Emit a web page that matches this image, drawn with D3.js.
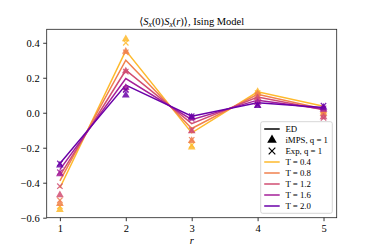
<!DOCTYPE html>
<html>
<head>
<meta charset="utf-8">
<script src="https://cdn.jsdelivr.net/npm/d3@7"></script>
<style>
  body { margin: 0; background: #fff; }
  svg { display: block; font-family: "Liberation Serif", "DejaVu Serif", serif; }
</style>
</head>
<body>
<svg></svg>
<script>
// distances r
var distances = [1, 2, 3, 4, 5];
var temps = [0.4, 0.8, 1.2, 1.6, 2.0];
var yTicks = [-0.6, -0.4, -0.2, 0.0, 0.2, 0.4];

// ED curves, one row per temperature
var edValues = [
    [-0.43, 0.355, -0.115, 0.12, 0.037],
    [-0.39, 0.300, -0.090, 0.105, 0.022],
    [-0.36, 0.243, -0.062, 0.090, 0.017],
    [-0.325, 0.195, -0.040, 0.072, 0.022],
    [-0.29, 0.158, -0.020, 0.057, 0.030]
];
// iMPS, q = 1 (triangles)
var impsValues = [
    [-0.555, 0.422, -0.197, 0.120, 0.008],
    [-0.52, 0.350, -0.160, 0.108, -0.005],
    [-0.47, 0.238, -0.105, 0.085, -0.025],
    [-0.35, 0.143, -0.030, 0.058, 0.018],
    [-0.30, 0.100, -0.025, 0.040, 0.030]
];
// Exp, q = 1 (crosses)
var expValues = [
    [-0.535, 0.400, -0.185, 0.112, 0.000],
    [-0.50, 0.345, -0.155, 0.100, -0.010],
    [-0.42, 0.235, -0.100, 0.075, -0.030],
    [-0.34, 0.135, -0.035, 0.050, 0.025],
    [-0.29, 0.130, -0.020, 0.045, 0.040]
];
var colorPos = [0.85, 0.6875, 0.525, 0.3625, 0.2];

var svg = d3.select("svg").attr("width", 374).attr("height", 249),
    margin = {top: 29.3, right: 37.3, bottom: 31.3, left: 46.7},
    width = 374 - margin.left - margin.right,
    height = 249 - margin.top - margin.bottom;

var x = d3.scaleLinear().domain([0.8, 5.2]).range([0, width]),
    y = d3.scaleLinear().domain([-0.6, 0.477]).range([height, 0]);

var g = svg.append("g")
    .attr("transform", "translate(" + margin.left + "," + margin.top + ")");

var fmt = function (d) { return d3.format(".1f")(d).replace("-", "\u2212"); };

var xAxis = g.append("g")
    .attr("transform", "translate(0," + height + ")")
    .call(d3.axisBottom(x).tickValues(distances).tickSize(3.5).tickPadding(3.5).tickFormat(d3.format("d")));
var yAxis = g.append("g")
    .call(d3.axisLeft(y).tickValues(yTicks).tickSize(3.5).tickPadding(3.5).tickFormat(fmt));
[xAxis, yAxis].forEach(function (a) {
    a.select(".domain").remove();
    a.selectAll("line").attr("stroke", "#000").attr("stroke-width", 0.8);
    a.selectAll("text").attr("font-family", "Liberation Serif, serif").attr("font-size", 10.5).attr("fill", "#000");
});

var line = d3.line()
    .x(function (d, i) { return x(distances[i]); })
    .y(function (d) { return y(d); });

temps.forEach(function (t, k) {
    var c = d3.interpolatePlasma(colorPos[k]);
    g.append("path")
        .datum(edValues[k])
        .attr("fill", "none")
        .attr("stroke", c)
        .attr("stroke-width", 1.5)
        .attr("d", line);
});

var tri = d3.symbol().type(d3.symbolTriangle).size(26);
temps.forEach(function (t, k) {
    var c = d3.interpolatePlasma(colorPos[k]);
    g.selectAll(".tri" + k)
        .data(impsValues[k])
        .enter().append("path")
        .attr("d", tri)
        .attr("fill", c)
        .attr("opacity", 0.85)
        .attr("transform", function (d, i) { return "translate(" + x(distances[i]) + "," + y(d) + ")"; });
    g.selectAll(".cross" + k)
        .data(expValues[k])
        .enter().append("path")
        .attr("d", "M-2.7,-2.7L2.7,2.7M-2.7,2.7L2.7,-2.7")
        .attr("stroke", c)
        .attr("stroke-width", 1.2)
        .attr("opacity", 0.85)
        .attr("transform", function (d, i) { return "translate(" + x(distances[i]) + "," + y(d) + ")"; });
});

// frame
g.append("rect")
    .attr("width", width).attr("height", height)
    .attr("fill", "none").attr("stroke", "#222").attr("stroke-width", 0.8);

// title
var title = svg.append("text")
    .attr("x", margin.left + width / 2).attr("y", 24.5)
    .attr("text-anchor", "middle").attr("font-size", 10.5);
title.append("tspan").text("\u27e8");
title.append("tspan").attr("font-style", "italic").text("S");
title.append("tspan").attr("font-style", "italic").attr("font-size", 7.5).attr("dy", 2).text("x");
title.append("tspan").attr("dy", -2).text("(0)");
title.append("tspan").attr("font-style", "italic").text("S");
title.append("tspan").attr("font-style", "italic").attr("font-size", 7.5).attr("dy", 2).text("x");
title.append("tspan").attr("dy", -2).text("(");
title.append("tspan").attr("font-style", "italic").text("r");
title.append("tspan").text(")\u27e9, Ising Model");

// x label
svg.append("text")
    .attr("x", margin.left + width / 2).attr("y", 244)
    .attr("text-anchor", "middle").attr("font-size", 10.5)
    .attr("font-style", "italic").text("r");

// legend
var lg = svg.append("g").attr("transform", "translate(260.7,121.7)");
lg.append("rect")
    .attr("width", 71.6).attr("height", 91.6).attr("rx", 2)
    .attr("fill", "#fff").attr("fill-opacity", 0.8)
    .attr("stroke", "#ccc").attr("stroke-width", 0.8);
var rowY = function (i) { return 7.3 + i * 11; };
lg.append("line").attr("x1", 3.5).attr("x2", 19).attr("y1", rowY(0)).attr("y2", rowY(0))
    .attr("stroke", "#000").attr("stroke-width", 1.5);
lg.append("path").attr("d", d3.symbol().type(d3.symbolTriangle).size(40))
    .attr("transform", "translate(11.3," + rowY(1) + ")").attr("fill", "#000");
lg.append("path").attr("d", "M-3.3,-3.3L3.3,3.3M-3.3,3.3L3.3,-3.3")
    .attr("transform", "translate(11.3," + rowY(2) + ")").attr("stroke", "#000").attr("stroke-width", 1.2);
temps.forEach(function (t, k) {
    lg.append("line").attr("x1", 3.5).attr("x2", 19).attr("y1", rowY(k + 3)).attr("y2", rowY(k + 3))
        .attr("stroke", d3.interpolatePlasma(colorPos[k])).attr("stroke-width", 1.5);
});
var labels = ["ED", "iMPS, q = 1", "Exp, q = 1"].concat(temps.map(function (t) { return "T = " + t.toFixed(1); }));
lg.selectAll(".lab").data(labels).enter().append("text")
    .attr("x", 24.7).attr("y", function (d, i) { return rowY(i) + 3; })
    .attr("font-size", 8.8).attr("fill", "#000")
    .text(function (d) { return d; });
</script>
</body>
</html>
